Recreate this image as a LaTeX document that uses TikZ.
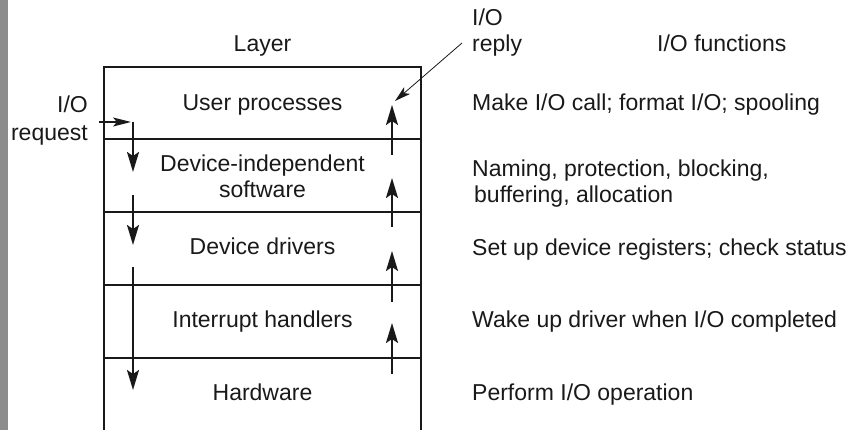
\documentclass[tikz,border=0pt]{standalone}
\usepackage{fontspec}
\setmainfont{Liberation Sans}
\usetikzlibrary{arrows.meta}
\begin{document}
\begin{tikzpicture}[x=1pt,y=-1pt,
  every node/.style={inner sep=0pt, font=\fontsize{23}{26}\selectfont, text=black!90},
  lbl/.style={anchor=base},
  fn/.style={anchor=base west, align=left},
  frame/.style={line width=2.8pt, black!90},
  flow/.style={line width=2pt, black!90, -{Stealth[length=20pt,width=12pt,inset=4pt]}},
  reqline/.style={line width=1.4pt, black!90, -{Stealth[length=18pt,width=9pt,inset=4pt]}},
  replyline/.style={line width=0.8pt, black!90, -{Stealth[length=16pt,width=9pt,inset=4pt]}}
]
\useasboundingbox (0,0) rectangle (855,430);
\fill[black!45] (0,0) rectangle (8,430);

% frame of the layer stack (open at the bottom)
\draw[frame] (104,440) -- (104,67) -- (421,67) -- (421,440);
\foreach \yy in {139,212,285,358} \draw[frame] (104,\yy) -- (421,\yy);

% headings (multi-line nodes: base = baseline of last line)
\node[lbl] (layerT) at (262.5,52) {Layer};
\node[anchor=base west] (fnT) at (657,52) {I/O functions};
\node[fn] (reply) at (472,52) {I/O\\reply};
\node[anchor=base east, align=right] (req) at (88,141) {I/O\\[2pt]request};

% layers
\node[lbl] (user) at (262.5,111) {User processes};
\node[lbl, align=center] (dis) at (262.5,198) {Device-independent\\software};
\node[lbl] (drv) at (262.5,255) {Device drivers};
\node[lbl] (irq) at (262.5,328) {Interrupt handlers};
\node[lbl] (hw) at (262.5,401) {Hardware};

% functions
\node[fn] (f1) at (472,111) {Make I/O call; format I/O; spooling};
\node[fn] (f2) at (472,203) {Naming, protection, blocking,\\\hspace*{2pt}buffering, allocation};
\node[fn] (f3) at (472,256) {Set up device registers; check status};
\node[fn] (f4) at (472,328) {Wake up driver when I/O completed};
\node[fn] (f5) at (472,401) {Perform I/O operation};

% request path
\coordinate (r0) at (99,122);
\coordinate (r1) at (131,122);
\coordinate (d0) at (133,122);
\coordinate (d1) at (133,172);
\coordinate (d2) at (133,195);
\coordinate (d3) at (133,245);
\coordinate (d4) at (133,267);
\coordinate (d5) at (133,390);
\draw[reqline] (r0) -- (r1);
\draw[flow] (d0) -- (d1);
\draw[flow] (d2) -- (d3);
\draw[flow] (d4) -- (d5);

% reply path
\coordinate (u0) at (392,374);
\coordinate (u1) at (392,323);
\coordinate (u2) at (392,302);
\coordinate (u3) at (392,251);
\coordinate (u4) at (392,227);
\coordinate (u5) at (392,178);
\coordinate (u6) at (392,155);
\coordinate (u7) at (392,105);
\draw[flow] (u0) -- (u1);
\draw[flow] (u2) -- (u3);
\draw[flow] (u4) -- (u5);
\draw[flow] (u6) -- (u7);

\coordinate (p0) at (462,43);
\coordinate (p1) at (395,101);
\draw[replyline] (p0) -- (p1);
\end{tikzpicture}
\end{document}
